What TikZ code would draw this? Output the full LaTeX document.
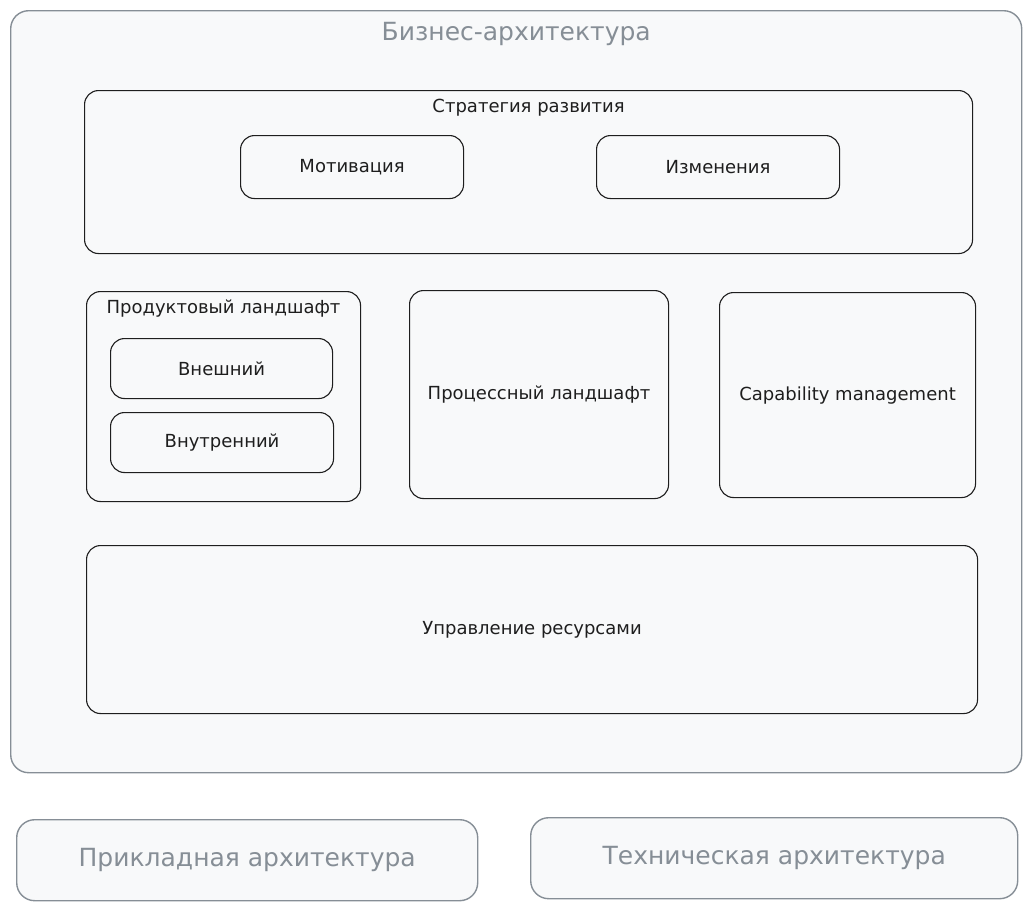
\documentclass[tikz,border=0pt]{standalone}
\usepackage{fontspec}
\setmainfont{DejaVu Sans}
\usetikzlibrary{positioning}
\definecolor{frame}{HTML}{868E96}
\definecolor{ink}{HTML}{1E1E1E}
\definecolor{paper}{HTML}{F8F9FA}
\begin{document}
\begin{tikzpicture}[x=1pt, y=-1pt,
  every node/.style = {font=\fontsize{18}{22}\selectfont, text=ink, inner sep=0pt},
  layer/.style = {draw=frame, fill=paper, line width=1.4pt, rounded corners=18pt, anchor=north west},
  block/.style = {draw=ink, fill=paper, line width=1.1pt, rounded corners=14pt, anchor=north west},
  tag/.style = {font=\fontsize{18}{22}\selectfont},
  bigtag/.style = {font=\fontsize{25}{30}\selectfont, text=frame}
  ]
  \useasboundingbox (0,0) rectangle (1031,910);
  % business layer
  \node[layer, minimum width=1011pt, minimum height=762pt] (biz) at (10,10) {};
  \node[bigtag, below=12pt of biz.north] (bizlbl) {Бизнес-архитектура};
  % strategy
  \node[block, minimum width=888pt, minimum height=163pt] (strat) at (84,90) {};
  \node[tag, below=9pt of strat.north] (stratlbl) {Стратегия развития};
  \node[block, minimum width=223pt, minimum height=63pt] (motiv) at (240,135) {Мотивация};
  \node[block, minimum width=243pt, minimum height=63pt] (change) at (596,135) {Изменения};
  % landscapes
  \node[block, minimum width=274pt, minimum height=210pt] (prod) at (86,291) {};
  \node[tag, below=9pt of prod.north] (prodlbl) {Продуктовый ландшафт};
  \node[block, minimum width=222pt, minimum height=60pt] (ext) at (110,338) {Внешний};
  \node[block, minimum width=223pt, minimum height=60pt] (int) at (110,412) {Внутренний};
  \node[block, minimum width=259pt, minimum height=208pt] (proc) at (409,290) {Процессный ландшафт};
  \node[block, minimum width=256pt, minimum height=205pt] (capab) at (719,292) {Capability management};
  % resources
  \node[block, minimum width=891pt, minimum height=168pt] (res) at (86,545) {Управление ресурсами};
  % other layers
  \node[layer, minimum width=461pt, minimum height=81pt, bigtag] (app) at (16,819) {Прикладная архитектура};
  \node[layer, minimum width=487pt, minimum height=81pt, bigtag] (tech) at (530,817) {Техническая архитектура};
\end{tikzpicture}
\end{document}
